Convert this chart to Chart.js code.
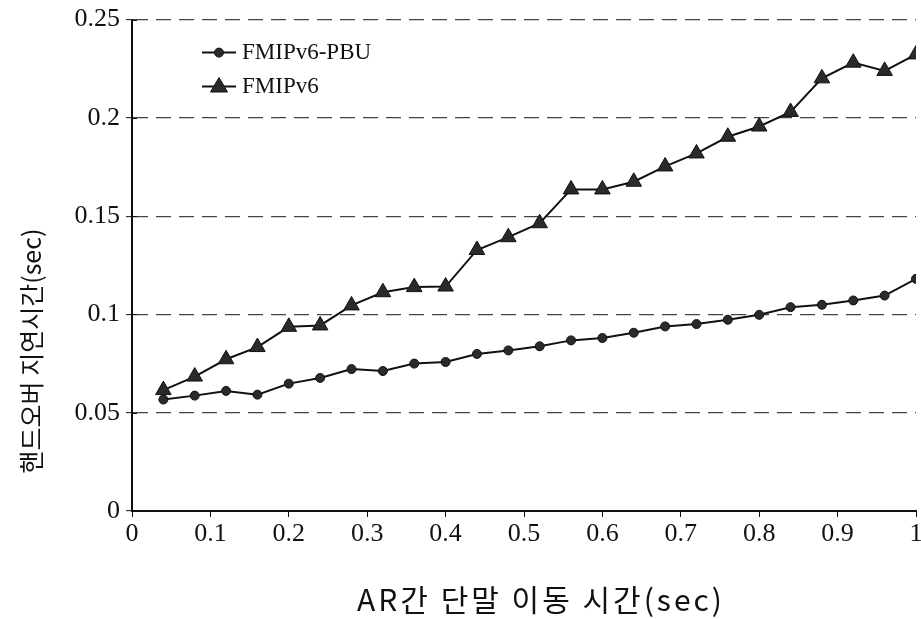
<!DOCTYPE html>
<html>
<head>
<meta charset="utf-8">
<script src="https://cdn.jsdelivr.net/npm/chart.js@4.4.1/dist/chart.umd.min.js"></script>
<style>
    html, body { margin: 0; padding: 0; background: #fff; overflow: hidden; }
    #wrap { width: 926px; height: 621px; position: relative; top: -2px; }
</style>
</head>
<body>
<div id="wrap"><canvas id="c"></canvas></div>
<script>
// AR간 단말 이동 시간 (sec)
const moveTimes = [0.04, 0.08, 0.12, 0.16, 0.20, 0.24, 0.28, 0.32, 0.36, 0.40, 0.44, 0.48, 0.52,
    0.56, 0.60, 0.64, 0.68, 0.72, 0.76, 0.80, 0.84, 0.88, 0.92, 0.96, 1.00];

// 핸드오버 지연시간 (sec)
const pbuDelay = [0.0567, 0.0587, 0.0611, 0.0592, 0.0648, 0.0677, 0.0722, 0.0712, 0.0750, 0.0758,
    0.0799, 0.0817, 0.0838, 0.0868, 0.0880, 0.0907, 0.0939, 0.0951, 0.0973, 0.0998,
    0.1037, 0.1049, 0.1071, 0.1096, 0.1181];
const fmipDelay = [0.0615, 0.0684, 0.0772, 0.0834, 0.0937, 0.0944, 0.1046, 0.1113, 0.1139, 0.1142,
    0.1328, 0.1393, 0.1464, 0.1636, 0.1636, 0.1675, 0.1753, 0.1819, 0.1904, 0.1956,
    0.2030, 0.2201, 0.2281, 0.2239, 0.2323];

const seriesNames = ['FMIPv6-PBU', 'FMIPv6'];
const xTitle = 'AR간 단말 이동 시간(sec)';
const yTitle = '핸드오버 지연시간(sec)';

const tickFont = { family: '"Liberation Serif", "DejaVu Serif", serif', size: 26 };
const ink = '#111';

function toPoints(ys) {
    return ys.map((y, i) => ({ x: moveTimes[i], y }));
}

function drawMarker(ctx, style, x, y, r) {
    ctx.beginPath();
    if (style === 'triangle') {
        ctx.moveTo(x, y - r);
        ctx.lineTo(x + r * 0.95, y + r * 0.6);
        ctx.lineTo(x - r * 0.95, y + r * 0.6);
        ctx.closePath();
    } else {
        ctx.arc(x, y, r, 0, Math.PI * 2);
    }
    ctx.fill();
    ctx.stroke();
}

/** Legend in the upper-left of the plot plus both axis titles. */
const decorPlugin = {
    id: 'decor',
    afterDraw(chart) {
        const { ctx, chartArea } = chart;
        ctx.save();
        // y tick marks cross the axis line
        const yScale = chart.scales.y;
        ctx.strokeStyle = ink;
        ctx.lineWidth = 1;
        yScale.ticks.forEach((t) => {
            const py = Math.round(yScale.getPixelForValue(t.value)) + 0.5;
            ctx.beginPath();
            ctx.moveTo(chartArea.left, py);
            ctx.lineTo(chartArea.left + 5, py);
            ctx.stroke();
        });

        // legend
        ctx.font = '23px "Liberation Serif", "DejaVu Serif", serif';
        ctx.textBaseline = 'middle';
        chart.data.datasets.forEach((ds, i) => {
            const y = chartArea.top + 33 + i * 34;
            const x0 = chartArea.left + 70;
            ctx.strokeStyle = ink;
            ctx.lineWidth = 2;
            ctx.beginPath();
            ctx.moveTo(x0, y);
            ctx.lineTo(x0 + 34, y);
            ctx.stroke();
            ctx.fillStyle = ds.pointBackgroundColor;
            ctx.strokeStyle = ink;
            ctx.lineWidth = 1;
            drawMarker(ctx, ds.pointStyle, x0 + 17, y, ds.pointStyle === 'triangle' ? 9 : 4.5);
            ctx.fillStyle = ink;
            ctx.fillText(ds.label, x0 + 40, y);
        });

        // axis titles
        ctx.fillStyle = ink;
        ctx.textAlign = 'center';
        ctx.font = '30px "Noto Sans CJK KR", sans-serif';
        ctx.letterSpacing = '3px';
        ctx.fillText(xTitle, 541, 602);
        ctx.letterSpacing = '0px';
        ctx.translate(31, 353);
        ctx.rotate(-Math.PI / 2);
        ctx.font = '25px "Noto Sans CJK KR", sans-serif';
        ctx.fillText(yTitle, 0, 0);
        ctx.restore();
    }
};

new Chart(document.getElementById('c'), {
    type: 'line',
    data: {
        datasets: [
            {
                label: seriesNames[0],
                data: toPoints(pbuDelay),
                borderColor: ink,
                borderWidth: 2,
                pointStyle: 'circle',
                pointRadius: 4.5,
                pointBackgroundColor: '#2a2a2a',
                pointBorderColor: ink,
                pointBorderWidth: 1,
                tension: 0
            },
            {
                label: seriesNames[1],
                data: toPoints(fmipDelay),
                borderColor: ink,
                borderWidth: 2,
                pointStyle: 'triangle',
                pointRadius: 9,
                pointBackgroundColor: '#2a2a2a',
                pointBorderColor: ink,
                pointBorderWidth: 1,
                tension: 0
            }
        ]
    },
    options: {
        responsive: true,
        maintainAspectRatio: false,
        animation: false,
        layout: { padding: { top: 16, right: 0, left: 0, bottom: 0 } },
        plugins: {
            legend: { display: false },
            tooltip: { enabled: false }
        },
        scales: {
            x: {
                type: 'linear',
                min: 0,
                max: 1,
                ticks: {
                    stepSize: 0.1,
                    color: ink,
                    font: tickFont,
                    padding: 2,
                    maxRotation: 0,
                    callback: (v) => Number(v.toFixed(1)).toString()
                },
                grid: {
                    drawOnChartArea: false,
                    drawTicks: true,
                    tickLength: 6,
                    tickColor: ink,
                    tickWidth: 1
                },
                border: { color: ink, width: 2 },
                afterFit(scale) { scale.height = 108; }
            },
            y: {
                min: 0,
                max: 0.25,
                ticks: {
                    stepSize: 0.05,
                    color: ink,
                    font: tickFont,
                    padding: 6,
                    callback: (v) => Number(v.toFixed(2)).toString()
                },
                grid: {
                    color: '#444',
                    lineWidth: 1.3,
                    tickLength: 6,
                    tickColor: ink,
                    tickWidth: 1,
                    tickBorderDash: []
                },
                border: { color: ink, width: 2, dash: [15, 8] },
                afterFit(scale) { scale.width = 132; }
            }
        }
    },
    plugins: [decorPlugin]
});
</script>
</body>
</html>
